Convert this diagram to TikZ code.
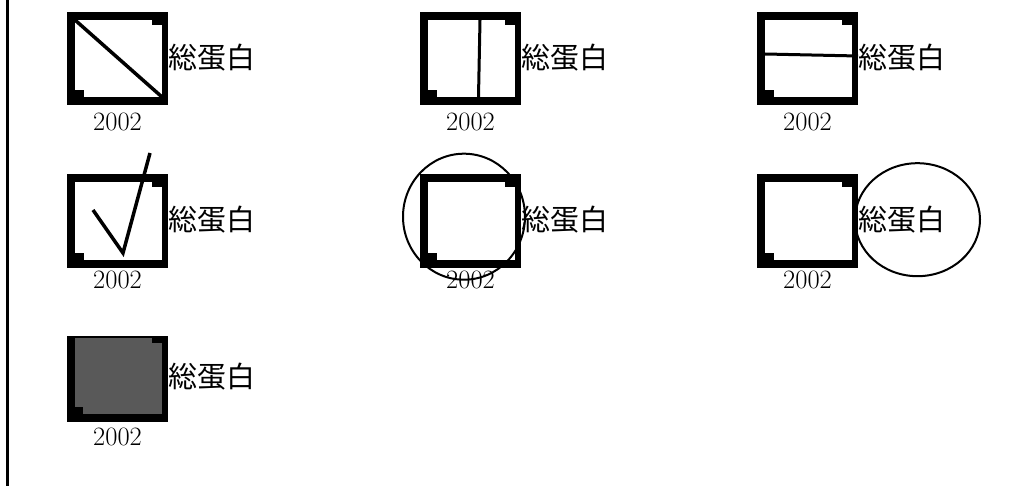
\documentclass[tikz,border=0pt]{standalone}
\usepackage{fontspec}
\newfontfamily\jpfont{Noto Sans CJK JP}
\newcommand{\myframe}[5]{%
  \fill[black] (#1,#2) rectangle (#3,#4);
  \fill[#5] ({#1+8},{#2+8}) rectangle ({#3-6},{#4-8});
  \fill[black] ({#3-16},{#2+8}) rectangle ({#3-6},{#2+13});
  \fill[black] ({#1+8},{#4-15}) rectangle ({#1+17},{#4-8});
}
\tikzset{
  lbl/.style={anchor=west, inner sep=0pt, font=\jpfont\fontsize{29}{29}\selectfont},
  yr/.style={anchor=center, inner sep=0pt, font=\fontsize{26.5}{26.5}\selectfont},
  mark line/.style={line width=3.5pt, line cap=butt},
  ring/.style={line width=2pt}
}
\begin{document}
\begin{tikzpicture}[x=1pt,y=-1pt]
\useasboundingbox (0,0) rectangle (1018,486);
\fill[white] (0,0) rectangle (1018,486);
% left rule
\draw[line width=3pt] (7.5,0) coordinate (ruletop) -- (7.5,486) coordinate (rulebot);

% row 1, col 1: diagonal
\myframe{67}{12}{168}{105}{white}
\coordinate (d1a) at (75,20); \coordinate (d1b) at (162,97);
\draw[mark line] (d1a) -- (d1b);
\node[lbl] (l11) at (168,58) {総蛋白};
\node[yr] (y11) at (117.5,122) {2002};

% row 1, col 2: vertical
\myframe{420}{12}{521}{105}{white}
\coordinate (v1) at (480,20); \coordinate (v2) at (478.5,97);
\draw[line width=3pt] (v1) -- (v2);
\node[lbl] (l12) at (521,58) {総蛋白};
\node[yr] (y12) at (470.5,122) {2002};

% row 1, col 3: horizontal
\myframe{757}{12}{858}{105}{white}
\coordinate (h1) at (765,54); \coordinate (h2) at (858,56);
\draw[line width=3pt] (h1) -- (h2);
\node[lbl] (l13) at (858,58) {総蛋白};
\node[yr] (y13) at (807.5,122) {2002};

% row 2, col 1: check mark
\myframe{67}{174}{168}{268}{white}
\coordinate (c1) at (93,210); \coordinate (c2) at (123,253); \coordinate (c3) at (150,153);
\draw[mark line, line join=miter] (c1) -- (c2) -- (c3);
\node[lbl] (l21) at (168,220) {総蛋白};
\node[yr] (y21) at (117.5,280) {2002};

% row 2, col 2: circle around box
\myframe{420}{174}{521}{268}{white}
\node[lbl] (l22) at (521,220) {総蛋白};
\node[yr] (y22) at (470.5,280) {2002};
\draw[ring] (464,216.7) ellipse [x radius=61, y radius=63];

% row 2, col 3: circle around label
\myframe{757}{174}{858}{268}{white}
\node[lbl] (l23) at (858,220) {総蛋白};
\node[yr] (y23) at (807.5,280) {2002};
\draw[ring] (917.5,219.7) ellipse [x radius=62.5, y radius=56.5];

% row 3, col 1: filled
\fill[black] (67,336) rectangle (168,422);
\fill[black!65] (75,338) rectangle (162,414);
\fill[black] (152,338) rectangle (162,343);
\fill[black] (75,407) rectangle (83,414);
\node[lbl] (l31) at (168,377) {総蛋白};
\node[yr] (y31) at (117.5,437) {2002};
\end{tikzpicture}
\end{document}
